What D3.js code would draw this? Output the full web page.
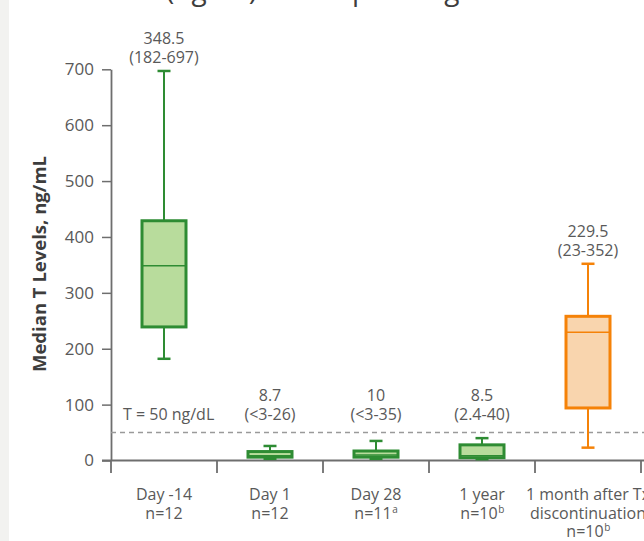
<!DOCTYPE html>
<html>
<head>
<meta charset="utf-8">
<script src="https://cdn.jsdelivr.net/npm/d3@7"></script>
<style>
  html, body { margin: 0; padding: 0; background: #ffffff; }
  svg { display: block; font-family: "Open Sans", "Noto Sans", sans-serif; }
</style>
</head>
<body>
<svg id="chart" width="644" height="541"></svg>
<script>
// Time points and sample sizes
const categories = ["Day -14", "Day 1", "Day 28", "1 year", "1 month after Tx discontinuation"];
const categoryLines = [["Day -14"], ["Day 1"], ["Day 28"], ["1 year"], ["1 month after Tx", "discontinuation"]];
const sampleSizes = ["n=12", "n=12", "n=11", "n=10", "n=10"];
const sampleNotes = ["", "", "a", "b", "b"];

// Box-plot summaries, ng/mL
const medians = [348.5, 8.7, 10, 8.5, 229.5];
const mins = [182, 3, 3, 2.4, 23];
const q1s = [239, 6, 6, 5, 94];
const q3s = [429, 16, 17, 28, 258];
const maxs = [697, 26, 35, 40, 352];
const medianLabels = ["348.5", "8.7", "10", "8.5", "229.5"];
const rangeLabels = ["(182-697)", "(<3-26)", "(<3-35)", "(2.4-40)", "(23-352)"];
const phases = ["on", "on", "on", "on", "off"];

// Axis ticks and reference line
const yTicks = [0, 100, 200, 300, 400, 500, 600, 700];
const threshold = 50;
const thresholdLabel = "T = 50 ng/dL";

const palette = {
  on: { stroke: "#2e8c33", fill: "#b8dc9c" },
  off: { stroke: "#f58208", fill: "#f9d5ae" }
};
const textColor = "#595959";
const axisColor = "#6e6e6e";

const svg = d3.select("#chart");

// left page margin strip
svg.append("rect").attr("x", 0).attr("y", 0).attr("width", 9).attr("height", 541).attr("fill", "#f2f2f0");

// page heading, running off the top edge
svg.append("text")
  .attr("x", 166).attr("y", 0)
  .attr("font-size", 28).attr("fill", "#3d3d3d")
  .text("(ng/dL) Levels per Stage");

const y = d3.scaleLinear().domain([0, 700]).range([460.5, 69.3]);
const x = d3.scaleBand().domain(categories).range([111, 641]).paddingInner(0).paddingOuter(0);
const boxW = 44;
const capW = 13;

// y axis
const yAxis = svg.append("g")
  .attr("transform", "translate(111,0)")
  .call(d3.axisLeft(y).tickValues(yTicks).tickSize(9).tickSizeOuter(0).tickPadding(8));
yAxis.select(".domain").attr("stroke", axisColor).attr("stroke-width", 1.8);
yAxis.selectAll(".tick line").attr("stroke", axisColor).attr("stroke-width", 1.5);
yAxis.selectAll(".tick text").attr("fill", textColor).attr("font-size", 17)
  .attr("font-family", "'Open Sans', sans-serif");

// y title
svg.append("text")
  .attr("transform", "translate(46,264) rotate(-90)")
  .attr("text-anchor", "middle")
  .attr("font-size", 18.5).attr("font-weight", 700).attr("fill", "#3d3d3d")
  .text("Median T Levels, ng/mL");

// x axis: baseline and band boundary ticks
svg.append("line")
  .attr("x1", 102).attr("x2", 644).attr("y1", y(0)).attr("y2", y(0))
  .attr("stroke", axisColor).attr("stroke-width", 1.8);
const boundaries = categories.map(c => x(c)).concat([x.range()[1]]);
svg.selectAll("line.bound").data(boundaries).join("line")
  .attr("class", "bound")
  .attr("x1", d => d).attr("x2", d => d)
  .attr("y1", y(0)).attr("y2", y(0) + 12.5)
  .attr("stroke", axisColor).attr("stroke-width", 1.8);

// category labels with sample sizes
categories.forEach((c, i) => {
  const cx = x(c) + x.bandwidth() / 2;
  const lines = categoryLines[i];
  lines.forEach((ln, j) => {
    svg.append("text").attr("x", cx).attr("y", 500 + j * 18.5)
      .attr("text-anchor", "middle").attr("font-size", 16).attr("fill", textColor)
      .text(ln);
  });
  const ny = 500 + lines.length * 18.5;
  const nt = svg.append("text").attr("x", cx).attr("y", ny)
    .attr("text-anchor", "middle").attr("font-size", 16).attr("fill", textColor)
    .text(sampleSizes[i]);
  if (sampleNotes[i]) {
    const w = nt.node().getComputedTextLength();
    nt.attr("x", cx - 3);
    svg.append("text").attr("x", cx - 3 + w / 2 + 0.5).attr("y", ny - 6)
      .attr("font-size", 10).attr("fill", textColor)
      .text(sampleNotes[i]);
  }
});

// threshold reference line
svg.append("line")
  .attr("x1", 111).attr("x2", 644).attr("y1", y(threshold)).attr("y2", y(threshold))
  .attr("stroke", "#9a9a9a").attr("stroke-width", 1.5).attr("stroke-dasharray", "5,4");
svg.append("text")
  .attr("x", 123).attr("y", 419.5)
  .attr("font-size", 16).attr("fill", textColor)
  .text(thresholdLabel);

// boxes
categories.forEach((c, i) => {
  const cx = x(c) + x.bandwidth() / 2;
  const col = palette[phases[i]];
  const g = svg.append("g");
  // whiskers
  g.append("line").attr("x1", cx).attr("x2", cx).attr("y1", y(maxs[i])).attr("y2", y(q3s[i]))
    .attr("stroke", col.stroke).attr("stroke-width", 2);
  g.append("line").attr("x1", cx).attr("x2", cx).attr("y1", y(q1s[i])).attr("y2", y(mins[i]))
    .attr("stroke", col.stroke).attr("stroke-width", 2);
  [maxs[i], mins[i]].forEach(v => {
    g.append("line").attr("x1", cx - capW / 2).attr("x2", cx + capW / 2)
      .attr("y1", y(v)).attr("y2", y(v))
      .attr("stroke", col.stroke).attr("stroke-width", 2.5);
  });
  // interquartile box
  g.append("rect")
    .attr("x", cx - boxW / 2).attr("width", boxW)
    .attr("y", y(q3s[i])).attr("height", y(q1s[i]) - y(q3s[i]))
    .attr("fill", col.fill).attr("stroke", col.stroke).attr("stroke-width", 3);
  // median
  g.append("line").attr("x1", cx - boxW / 2).attr("x2", cx + boxW / 2)
    .attr("y1", y(medians[i])).attr("y2", y(medians[i]))
    .attr("stroke", col.stroke).attr("stroke-width", 1.5);

  // median and range labels
  const base = Math.min(y(maxs[i]) - 8, 419.5);
  svg.append("text").attr("x", cx).attr("y", base - 18.5)
    .attr("text-anchor", "middle").attr("font-size", 16).attr("fill", textColor)
    .text(medianLabels[i]);
  svg.append("text").attr("x", cx).attr("y", base)
    .attr("text-anchor", "middle").attr("font-size", 16).attr("fill", textColor)
    .text(rangeLabels[i]);
});
</script>
</body>
</html>
